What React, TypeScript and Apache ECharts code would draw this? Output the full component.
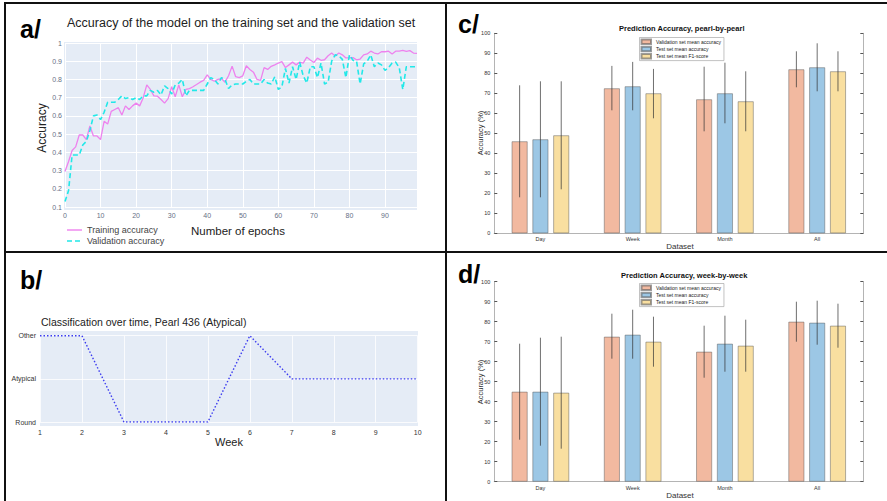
import React, { useEffect, useRef } from 'react';
import * as echarts from 'echarts';

const FONT = '"Liberation Sans", Arial, Helvetica, sans-serif';

// ---------- panel a: training history ----------
const trainingAccuracy = [
  0.295, 0.35, 0.41, 0.43, 0.495, 0.495, 0.47, 0.545, 0.49, 0.49,
  0.47, 0.57, 0.555, 0.625, 0.635, 0.645, 0.605, 0.655, 0.635, 0.655,
  0.67, 0.655, 0.7, 0.77, 0.745, 0.71, 0.708, 0.69, 0.67, 0.695,
  0.76, 0.705, 0.77, 0.705, 0.745, 0.75, 0.76, 0.772, 0.785, 0.795,
  0.825, 0.8, 0.79, 0.8, 0.805, 0.785, 0.82, 0.873, 0.815, 0.81,
  0.82, 0.875, 0.855, 0.84, 0.8, 0.795, 0.865, 0.855, 0.872, 0.88,
  0.89, 0.898, 0.865, 0.88, 0.895, 0.88, 0.895, 0.89, 0.922, 0.907,
  0.893, 0.917, 0.905, 0.908, 0.93, 0.945, 0.928, 0.945, 0.935, 0.918,
  0.918, 0.92, 0.908, 0.912, 0.935, 0.94, 0.955, 0.945, 0.94, 0.952,
  0.952, 0.955, 0.94, 0.955, 0.955, 0.96, 0.954, 0.958, 0.945, 0.943,
];
const validationAccuracy = [
  0.13, 0.19, 0.385, 0.385, 0.385, 0.44, 0.46, 0.52, 0.6, 0.605,
  0.58, 0.62, 0.675, 0.675, 0.675, 0.69, 0.71, 0.695, 0.7, 0.69,
  0.7, 0.69, 0.71, 0.71, 0.74, 0.73, 0.74, 0.715, 0.765, 0.75,
  0.72, 0.77, 0.78, 0.8, 0.71, 0.74, 0.74, 0.74, 0.74, 0.74,
  0.775, 0.81, 0.8, 0.775, 0.81, 0.8, 0.75, 0.77, 0.775, 0.775,
  0.775, 0.79, 0.8, 0.775, 0.775, 0.775, 0.8, 0.78, 0.775, 0.815,
  0.745, 0.76, 0.86, 0.78, 0.87, 0.8, 0.895, 0.82, 0.78, 0.87,
  0.87, 0.81, 0.89, 0.775, 0.785, 0.9, 0.935, 0.93, 0.91, 0.81,
  0.935, 0.905, 0.9, 0.775, 0.885, 0.9, 0.935, 0.87, 0.89, 0.88,
  0.85, 0.865, 0.89, 0.895, 0.865, 0.745, 0.87, 0.87, 0.87, 0.87,
];

// ---------- panel b: classification over time ----------
const weeks = [1, 2, 3, 4, 5, 6, 7, 8, 9, 10];
const pearlClasses = ['Other', 'Other', 'Round', 'Round', 'Round', 'Other', 'Atypical', 'Atypical', 'Atypical', 'Atypical'];
const classCategories = ['Round', 'Atypical', 'Other'];

// ---------- panels c, d: prediction accuracy ----------
const datasets = ['Day', 'Week', 'Month', 'All'];
const metricNames = ['Validation set mean accuracy', 'Test set mean accuracy', 'Test set mean F1-score'];
const barColors = ['#F2B9A0', '#9CC7E5', '#F9DFA0'];

const pearlValMean = [46, 72.5, 67, 82];
const pearlValLow = [18, 61.5, 51, 73];
const pearlValHigh = [74, 83.7, 83.3, 91];
const pearlTestMean = [47, 73.5, 70, 83];
const pearlTestLow = [18, 61.5, 55, 71];
const pearlTestHigh = [76, 85.7, 85.3, 95];
const pearlF1Mean = [49, 70, 66, 81];
const pearlF1Low = [22, 57.5, 51, 71];
const pearlF1High = [76, 82.2, 81, 91];

const weekValMean = [45, 72.5, 65, 80];
const weekValLow = [21, 61.5, 52, 70];
const weekValHigh = [69, 84, 78, 90];
const weekTestMean = [45, 73.5, 69, 79.5];
const weekTestLow = [18, 61.5, 55, 68.5];
const weekTestHigh = [72, 86, 83, 90.5];
const weekF1Mean = [44.5, 70, 68, 78];
const weekF1Low = [16.5, 57.5, 55, 67];
const weekF1High = [72.5, 82.5, 81, 89];

const TRAIN_COLOR = '#EE82EE';
const VALID_COLOR = '#22E8E8';
const BAR_WIDTH = 16;
const BAR_STEP = 20.8;

function errorData(lows: number[][], highs: number[][]) {
  const out: number[][] = [];
  for (let k = 0; k < lows.length; k++) {
    for (let c = 0; c < datasets.length; c++) {
      out.push([c, lows[k][c], highs[k][c], k]);
    }
  }
  return out;
}

const errRender = (_params: any, api: any) => {
  const cat = api.value(0);
  const p1 = api.coord([cat, api.value(1)]);
  const p2 = api.coord([cat, api.value(2)]);
  const x = p1[0] + (api.value(3) - 1) * BAR_STEP;
  return {
    type: 'line',
    shape: { x1: x, y1: p1[1], x2: x, y2: p2[1] },
    style: { stroke: 'rgba(50,50,50,0.7)', lineWidth: 1 },
  };
};

function barAxes(gridIndex: number) {
  const boxColor = '#b4b4b4';
  const x = [
    {
      type: 'category', gridIndex, data: datasets, position: 'bottom',
      axisLine: { lineStyle: { color: boxColor } },
      axisTick: { inside: true, alignWithLabel: true, length: 3, lineStyle: { color: '#555' } },
      axisLabel: { fontSize: 5.5, color: '#333', margin: 3, fontFamily: FONT },
    },
    {
      type: 'category', gridIndex, data: datasets, position: 'top',
      axisLine: { lineStyle: { color: boxColor } },
      axisTick: { inside: true, alignWithLabel: true, length: 3, lineStyle: { color: '#555' } },
      axisLabel: { show: false },
    },
  ];
  const y = [
    {
      type: 'value', gridIndex, min: 0, max: 100, interval: 10, position: 'left',
      axisLine: { show: true, lineStyle: { color: boxColor } },
      axisTick: { show: true, inside: true, length: 3, lineStyle: { color: '#555' } },
      axisLabel: { fontSize: 5.5, color: '#333', margin: 4, fontFamily: FONT },
      splitLine: { show: false },
    },
    {
      type: 'value', gridIndex, min: 0, max: 100, interval: 10, position: 'right',
      axisLine: { show: true, lineStyle: { color: boxColor } },
      axisTick: { show: true, inside: true, length: 3, lineStyle: { color: '#555' } },
      axisLabel: { show: false },
      splitLine: { show: false },
    },
  ];
  return { x, y };
}

function barSeries(xAxisIndex: number, yAxisIndex: number, means: number[][], lows: number[][], highs: number[][]) {
  const s: any[] = metricNames.map((name, k) => ({
    type: 'bar', name, xAxisIndex, yAxisIndex, data: means[k],
    barWidth: BAR_WIDTH, barGap: '30%',
    itemStyle: { color: barColors[k], borderColor: 'rgba(90,90,90,0.6)', borderWidth: 0.8 },
  }));
  s.push({
    type: 'custom', name: 'error', xAxisIndex, yAxisIndex, renderItem: errRender,
    encode: { x: 0, y: [1, 2] }, data: errorData(lows, highs), z: 5,
  });
  return s;
}

function legendBars(top: number) {
  return {
    data: metricNames, orient: 'vertical', left: 639.5, top,
    icon: 'rect', itemWidth: 9.5, itemHeight: 4.5, itemGap: 0.8,
    padding: [1, 3, 1, 1], borderColor: '#999', borderWidth: 0.6, backgroundColor: '#fff',
    textStyle: { fontSize: 5, lineHeight: 6, color: '#222', fontFamily: FONT },
    selectedMode: false,
  };
}

export default function App() {
  const ref = useRef<HTMLDivElement>(null);
  useEffect(() => {
    if (!ref.current) return;
    const chart = echarts.init(ref.current, null, { renderer: 'svg' });
    const c = barAxes(2);
    const d = barAxes(3);
    const frame = '#111';
    const option: any = {
      animation: false,
      backgroundColor: '#fff',
      textStyle: { fontFamily: FONT },
      title: [
        { text: 'Accuracy of the model on the training set and the validation set', left: 67, top: 16.5, padding: 0,
          textStyle: { fontSize: 12.5, fontWeight: 'normal', color: '#222', fontFamily: FONT } },
        { text: 'Classification over time, Pearl 436 (Atypical)', left: 41, top: 316.5, padding: 0,
          textStyle: { fontSize: 10.5, fontWeight: 'normal', color: '#222', fontFamily: FONT } },
        { text: 'Prediction Accuracy, pearl-by-pearl', left: 619, top: 24.5, padding: 0,
          textStyle: { fontSize: 7.5, fontWeight: 'bold', color: '#111', fontFamily: FONT } },
        { text: 'Prediction Accuracy, week-by-week', left: 621, top: 271.5, padding: 0,
          textStyle: { fontSize: 7.5, fontWeight: 'bold', color: '#111', fontFamily: FONT } },
      ],
      legend: [
        { data: ['Training accuracy', 'Validation accuracy'], orient: 'vertical', left: 66, top: 224.5,
          icon: 'none', itemWidth: 16, itemHeight: 8, itemGap: 0, padding: 0, selectedMode: false,
          textStyle: { fontSize: 9, lineHeight: 11, color: '#444', fontFamily: FONT } },
        legendBars(37.5),
        legendBars(283.5),
      ],
      grid: [
        { left: 65, top: 43, width: 352, height: 164 },
        { left: 40, top: 335.7, width: 377.7, height: 86.3 },
        { left: 494.3, top: 33.3, width: 369, height: 200, show: true, backgroundColor: '#fff', borderWidth: 0 },
        { left: 494.3, top: 281.7, width: 369, height: 200, show: true, backgroundColor: '#fff', borderWidth: 0 },
      ],
      xAxis: [
        { type: 'value', gridIndex: 0, min: 0, max: 99, interval: 10,
          axisLine: { show: false }, axisTick: { show: false },
          axisLabel: { fontSize: 7, color: '#667085', margin: 4.5, fontFamily: FONT,
            formatter: (v: number) => (v % 10 === 0 ? String(v) : '') },
          splitLine: { show: true, lineStyle: { color: '#fff', width: 1 } } },
        { type: 'value', gridIndex: 1, min: 1, max: 10, interval: 1,
          axisLine: { show: false }, axisTick: { show: false },
          axisLabel: { fontSize: 7, color: '#333', margin: 6.5, fontFamily: FONT },
          splitLine: { show: true, lineStyle: { color: 'rgba(255,255,255,0.8)', width: 1 } } },
        c.x[0], c.x[1], d.x[0], d.x[1],
      ],
      yAxis: [
        { type: 'value', gridIndex: 0, min: 0.1, max: 1, interval: 0.1,
          axisLine: { show: false }, axisTick: { show: false },
          axisLabel: { fontSize: 7, color: '#667085', margin: 3, fontFamily: FONT },
          splitLine: { show: true, lineStyle: { color: '#fff', width: 1 } } },
        { type: 'category', gridIndex: 1, data: classCategories, boundaryGap: false,
          axisLine: { show: false }, axisTick: { show: false },
          axisLabel: { fontSize: 7, color: '#333', margin: 4, fontFamily: FONT },
          splitLine: { show: true, lineStyle: { color: 'rgba(255,255,255,0.8)', width: 1 } } },
        c.y[0], c.y[1], d.y[0], d.y[1],
      ],
      series: [
        { type: 'line', name: 'Training accuracy', xAxisIndex: 0, yAxisIndex: 0, showSymbol: false, symbol: 'none',
          data: trainingAccuracy.map((v, i) => [i, v]),
          lineStyle: { color: TRAIN_COLOR, width: 1.3 }, itemStyle: { color: TRAIN_COLOR } },
        { type: 'line', name: 'Validation accuracy', xAxisIndex: 0, yAxisIndex: 0, showSymbol: false, symbol: 'none',
          data: validationAccuracy.map((v, i) => [i, v]),
          lineStyle: { color: VALID_COLOR, width: 1.6, type: [5, 3] }, itemStyle: { color: VALID_COLOR } },
        { type: 'line', name: 'Pearl 436', xAxisIndex: 1, yAxisIndex: 1, showSymbol: false, symbol: 'none',
          data: weeks.map((w, i) => [w, pearlClasses[i]]),
          lineStyle: { color: '#3b3bf0', width: 1.4, type: [1.5, 2] } },
        ...barSeries(2, 2, [pearlValMean, pearlTestMean, pearlF1Mean], [pearlValLow, pearlTestLow, pearlF1Low], [pearlValHigh, pearlTestHigh, pearlF1High]),
        ...barSeries(4, 4, [weekValMean, weekTestMean, weekF1Mean], [weekValLow, weekTestLow, weekF1Low], [weekValHigh, weekTestHigh, weekF1High]),
      ],
      graphic: [
        // plot backgrounds (plotly style)
        { type: 'rect', z: -10, shape: { x: 64, y: 42, width: 353, height: 168 }, style: { fill: '#E5ECF6' } },
        { type: 'rect', z: -10, shape: { x: 40, y: 331, width: 378, height: 95 }, style: { fill: '#E5ECF6' } },
        // legend line keys for panel a
        { type: 'line', z: 50, shape: { x1: 67, y1: 230, x2: 82, y2: 230 }, style: { stroke: TRAIN_COLOR, lineWidth: 1.4 } },
        { type: 'line', z: 50, shape: { x1: 67, y1: 241, x2: 82, y2: 241 }, style: { stroke: VALID_COLOR, lineWidth: 1.6, lineDash: [5, 3] } },
        // panel frames
        { type: 'line', z: 50, shape: { x1: 4, y1: 3, x2: 887, y2: 3 }, style: { stroke: frame, lineWidth: 2 } },
        { type: 'line', z: 50, shape: { x1: 5, y1: 3, x2: 5, y2: 501 }, style: { stroke: frame, lineWidth: 2 } },
        { type: 'line', z: 50, shape: { x1: 446, y1: 3, x2: 446, y2: 501 }, style: { stroke: frame, lineWidth: 2 } },
        { type: 'line', z: 50, shape: { x1: 5, y1: 252, x2: 887, y2: 252 }, style: { stroke: frame, lineWidth: 2 } },
        // panel letters
        { type: 'text', z: 50, x: 20, y: 29, style: { text: 'a/', font: `bold 25px ${FONT}`, fill: '#000', textVerticalAlign: 'middle' } },
        { type: 'text', z: 50, x: 20, y: 280, style: { text: 'b/', font: `bold 25px ${FONT}`, fill: '#000', textVerticalAlign: 'middle' } },
        { type: 'text', z: 50, x: 458, y: 24, style: { text: 'c/', font: `bold 25px ${FONT}`, fill: '#000', textVerticalAlign: 'middle' } },
        { type: 'text', z: 50, x: 458, y: 274, style: { text: 'd/', font: `bold 25px ${FONT}`, fill: '#000', textVerticalAlign: 'middle' } },
        // axis names
        { type: 'text', z: 50, x: 42, y: 128, rotation: Math.PI / 2,
          style: { text: 'Accuracy', font: `12px ${FONT}`, fill: '#222', textAlign: 'center', textVerticalAlign: 'middle' } },
        { type: 'text', z: 50, x: 238, y: 231,
          style: { text: 'Number of epochs', font: `11.5px ${FONT}`, fill: '#222', textAlign: 'center', textVerticalAlign: 'middle' } },
        { type: 'text', z: 50, x: 229, y: 442,
          style: { text: 'Week', font: `11px ${FONT}`, fill: '#222', textAlign: 'center', textVerticalAlign: 'middle' } },
        { type: 'text', z: 50, x: 480, y: 133, rotation: Math.PI / 2,
          style: { text: 'Accuracy (%)', font: `7.5px ${FONT}`, fill: '#333', textAlign: 'center', textVerticalAlign: 'middle' } },
        { type: 'text', z: 50, x: 680, y: 246,
          style: { text: 'Dataset', font: `8px ${FONT}`, fill: '#333', textAlign: 'center', textVerticalAlign: 'middle' } },
        { type: 'text', z: 50, x: 480, y: 382, rotation: Math.PI / 2,
          style: { text: 'Accuracy (%)', font: `7.5px ${FONT}`, fill: '#333', textAlign: 'center', textVerticalAlign: 'middle' } },
        { type: 'text', z: 50, x: 680, y: 495.5,
          style: { text: 'Dataset', font: `8px ${FONT}`, fill: '#333', textAlign: 'center', textVerticalAlign: 'middle' } },
      ],
    };
    chart.setOption(option);
    return () => chart.dispose();
  }, []);
  return <div ref={ref} style={{ position: 'fixed', left: 0, top: 0, width: 887, height: 501 }} />;
}
